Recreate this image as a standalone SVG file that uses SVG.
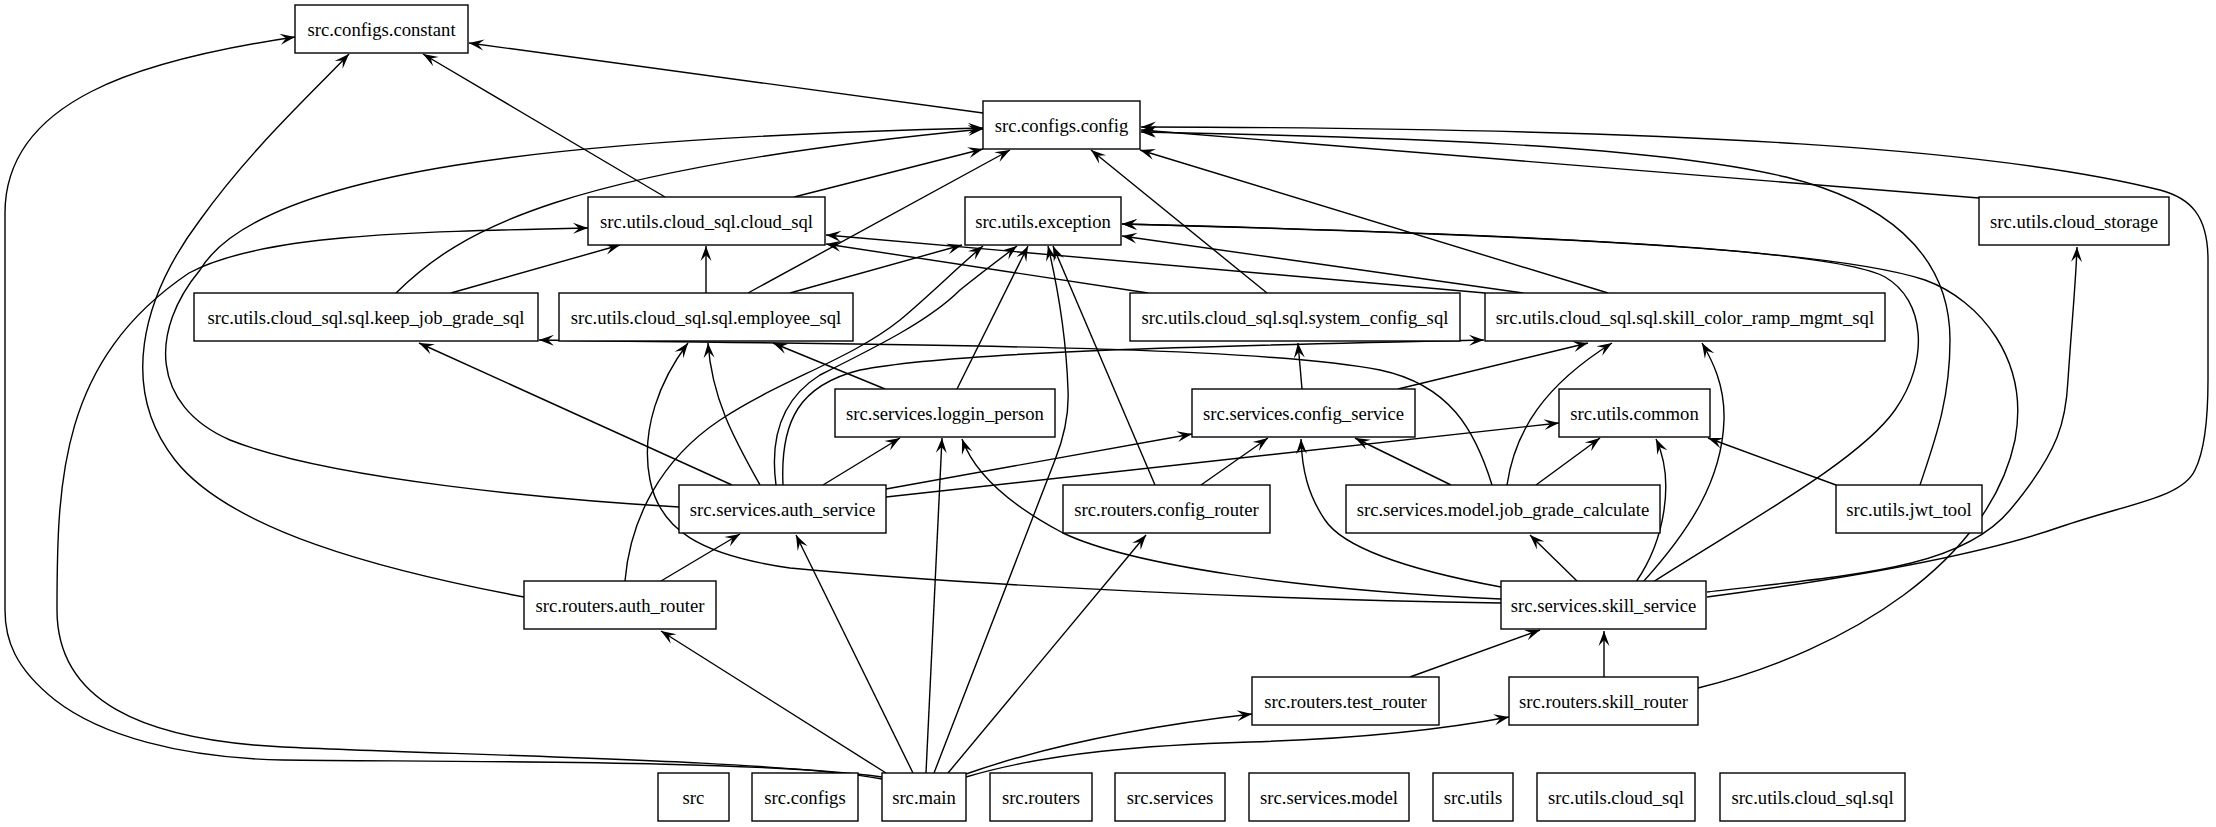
<svg xmlns="http://www.w3.org/2000/svg" width="2216" height="827" viewBox="0 0 2216 827">
<style>
.n rect{fill:#fff;stroke:#000;stroke-width:1.4}
.n text{font-family:"Liberation Serif","Times New Roman",serif;font-size:18.67px;text-anchor:middle;fill:#000}
#edges path{fill:none;stroke:#000;stroke-width:1.4;marker-end:url(#a)}
</style>
<defs>
<marker id="a" viewBox="-16 -7 17 14" refX="0" refY="0" markerWidth="17" markerHeight="14" markerUnits="userSpaceOnUse" orient="auto"><path d="M0,0 L-15,-5.5 L-9,0 L-15,5.5 Z" fill="#000" stroke="none"/></marker>
</defs>
<rect width="2216" height="827" fill="#fff"/>
<g id="edges">
<path d="M882,777 C760,760 450,762 283,760 C180,758 100,735 55,700 C15,668 5,640 5,610 L5,213 C5,100 140,60 295,37"/>
<path d="M882,779 C780,760 450,755 283,747 C140,740 57,700 57,610 C57,480 60,360 189,273 C260,235 400,232 588,228"/>
<path d="M524,597 C380,570 230,530 175,460 C120,390 140,300 200,220 C250,150 310,95 349,54"/>
<path d="M665,197 L423,54"/>
<path d="M983,113 L469,43"/>
<path d="M679,507 C560,500 330,480 230,440 C150,405 150,330 200,270 C260,170 560,138 983,128"/>
<path d="M396,293 C460,230 560,170 983,129"/>
<path d="M794,197 L983,149"/>
<path d="M748,293 L1010,150"/>
<path d="M1267,293 L1091,150"/>
<path d="M1608,293 L1140,150"/>
<path d="M1979,198 L1141,130"/>
<path d="M1707,597 C1850,578 1980,555 2060,527 C2130,503 2182,498 2195,470 C2205,450 2208,420 2208,380 L2208,260 C2208,215 2190,198 2160,190 C2000,150 1700,128 1141,127"/>
<path d="M1707,592 C1850,575 1960,570 2010,510 C2060,450 2066,420 2068,380 C2072,320 2076,280 2077,247"/>
<path d="M1920,485 C1935,440 1950,400 1950,340 C1950,250 1880,200 1786,177 C1650,145 1400,137 1141,132"/>
<path d="M934,773 L1055,460 C1066,432 1069,410 1068,390 C1066,330 1056,280 1048,246"/>
<path d="M1155,485 L1053,246"/>
<path d="M957,389 L1028,246"/>
<path d="M790,293 L962,245"/>
<path d="M625,581 C630,520 660,460 720,420 C780,380 850,360 900,320 C930,295 960,265 983,246"/>
<path d="M776,485 C770,440 780,400 820,375 C880,345 930,320 960,290 C985,270 1005,255 1017,246"/>
<path d="M783,485 C780,420 800,385 860,370 C950,352 1200,346 1484,340"/>
<path d="M1523,293 L1122,236"/>
<path d="M1485,293 L826,235"/>
<path d="M1148,293 L826,244"/>
<path d="M1653,582 C1750,520 1860,460 1895,410 C1930,360 1925,300 1885,277 C1840,252 1600,236 1122,224"/>
<path d="M1698,688 C1850,650 1990,560 2015,440 C2030,360 1980,300 1925,280 C1850,255 1650,238 1122,224"/>
<path d="M926,773 L942,438"/>
<path d="M913,773 L796,535"/>
<path d="M886,773 L661,631"/>
<path d="M948,773 L1146,535"/>
<path d="M966,774 C1040,748 1130,728 1252,714"/>
<path d="M966,777 C1050,752 1150,745 1250,742 C1350,739 1440,730 1509,717"/>
<path d="M661,581 L740,534"/>
<path d="M732,485 L419,343"/>
<path d="M760,485 C735,440 712,400 708,343"/>
<path d="M823,485 L900,438"/>
<path d="M886,489 L1192,434"/>
<path d="M886,497 L1559,423"/>
<path d="M1501,603 C1300,600 1000,588 790,568 C700,555 660,530 650,480 C640,430 660,380 688,343"/>
<path d="M1501,599 C1300,590 1130,565 1063,533 C1010,505 975,475 962,439"/>
<path d="M1501,587 C1420,572 1345,550 1325,520 C1308,495 1302,470 1301,439"/>
<path d="M1578,582 L1530,535"/>
<path d="M1636,582 C1665,540 1675,480 1656,439"/>
<path d="M1643,582 C1690,530 1722,480 1724,420 C1725,385 1712,360 1702,343"/>
<path d="M1604,677 L1604,631"/>
<path d="M1410,677 L1540,630"/>
<path d="M1492,485 C1475,430 1450,385 1380,370 C1250,345 900,345 539,340"/>
<path d="M1507,485 C1515,430 1545,385 1612,343"/>
<path d="M1451,485 L1355,438"/>
<path d="M1536,485 L1600,438"/>
<path d="M1836,485 L1708,438"/>
<path d="M1201,485 L1268,438"/>
<path d="M1302,389 L1298,343"/>
<path d="M1398,389 L1588,343"/>
<path d="M451,293 L620,245"/>
<path d="M706,293 L706,246"/>
<path d="M885,389 L773,343"/>
</g>
<g id="n_constant" class="n"><rect x="295" y="5" width="173" height="48"/><text x="381.5" y="36">src.configs.constant</text></g>
<g id="n_config" class="n"><rect x="983" y="101" width="157" height="48"/><text x="1061.5" y="132">src.configs.config</text></g>
<g id="n_cloud_sql" class="n"><rect x="588" y="197" width="237" height="48"/><text x="706.5" y="228">src.utils.cloud_sql.cloud_sql</text></g>
<g id="n_exception" class="n"><rect x="965" y="197" width="156" height="48"/><text x="1043" y="228">src.utils.exception</text></g>
<g id="n_cloud_storage" class="n"><rect x="1979" y="197" width="190" height="48"/><text x="2074" y="228">src.utils.cloud_storage</text></g>
<g id="n_keep_job" class="n"><rect x="194" y="293" width="344" height="48"/><text x="366" y="324">src.utils.cloud_sql.sql.keep_job_grade_sql</text></g>
<g id="n_employee" class="n"><rect x="559" y="293" width="294" height="48"/><text x="706" y="324">src.utils.cloud_sql.sql.employee_sql</text></g>
<g id="n_system_config" class="n"><rect x="1130" y="293" width="330" height="48"/><text x="1295" y="324">src.utils.cloud_sql.sql.system_config_sql</text></g>
<g id="n_skill_color" class="n"><rect x="1485" y="293" width="400" height="48"/><text x="1685" y="324">src.utils.cloud_sql.sql.skill_color_ramp_mgmt_sql</text></g>
<g id="n_loggin" class="n"><rect x="835" y="389" width="220" height="48"/><text x="945" y="420">src.services.loggin_person</text></g>
<g id="n_config_service" class="n"><rect x="1192" y="389" width="223" height="48"/><text x="1303.5" y="420">src.services.config_service</text></g>
<g id="n_common" class="n"><rect x="1559" y="389" width="151" height="48"/><text x="1634.5" y="420">src.utils.common</text></g>
<g id="n_auth_service" class="n"><rect x="679" y="485" width="207" height="48"/><text x="782.5" y="516">src.services.auth_service</text></g>
<g id="n_config_router" class="n"><rect x="1063" y="485" width="207" height="48"/><text x="1166.5" y="516">src.routers.config_router</text></g>
<g id="n_job_grade" class="n"><rect x="1346" y="485" width="314" height="48"/><text x="1503" y="516">src.services.model.job_grade_calculate</text></g>
<g id="n_jwt" class="n"><rect x="1836" y="485" width="146" height="48"/><text x="1909" y="516">src.utils.jwt_tool</text></g>
<g id="n_auth_router" class="n"><rect x="524" y="581" width="192" height="48"/><text x="620" y="612">src.routers.auth_router</text></g>
<g id="n_skill_service" class="n"><rect x="1501" y="581" width="205" height="48"/><text x="1603.5" y="612">src.services.skill_service</text></g>
<g id="n_test_router" class="n"><rect x="1252" y="677" width="187" height="48"/><text x="1345.5" y="708">src.routers.test_router</text></g>
<g id="n_skill_router" class="n"><rect x="1509" y="677" width="189" height="48"/><text x="1603.5" y="708">src.routers.skill_router</text></g>
<g id="n_src" class="n"><rect x="658" y="773" width="71" height="48"/><text x="693.5" y="804">src</text></g>
<g id="n_src_configs" class="n"><rect x="752" y="773" width="106" height="48"/><text x="805" y="804">src.configs</text></g>
<g id="n_main" class="n"><rect x="882" y="773" width="84" height="48"/><text x="924" y="804">src.main</text></g>
<g id="n_src_routers" class="n"><rect x="990" y="773" width="102" height="48"/><text x="1041" y="804">src.routers</text></g>
<g id="n_src_services" class="n"><rect x="1115" y="773" width="110" height="48"/><text x="1170" y="804">src.services</text></g>
<g id="n_src_services_model" class="n"><rect x="1249" y="773" width="160" height="48"/><text x="1329" y="804">src.services.model</text></g>
<g id="n_src_utils" class="n"><rect x="1433" y="773" width="80" height="48"/><text x="1473" y="804">src.utils</text></g>
<g id="n_src_utils_cloud_sql" class="n"><rect x="1537" y="773" width="158" height="48"/><text x="1616" y="804">src.utils.cloud_sql</text></g>
<g id="n_src_utils_cloud_sql_sql" class="n"><rect x="1720" y="773" width="185" height="48"/><text x="1812.5" y="804">src.utils.cloud_sql.sql</text></g>
</svg>
